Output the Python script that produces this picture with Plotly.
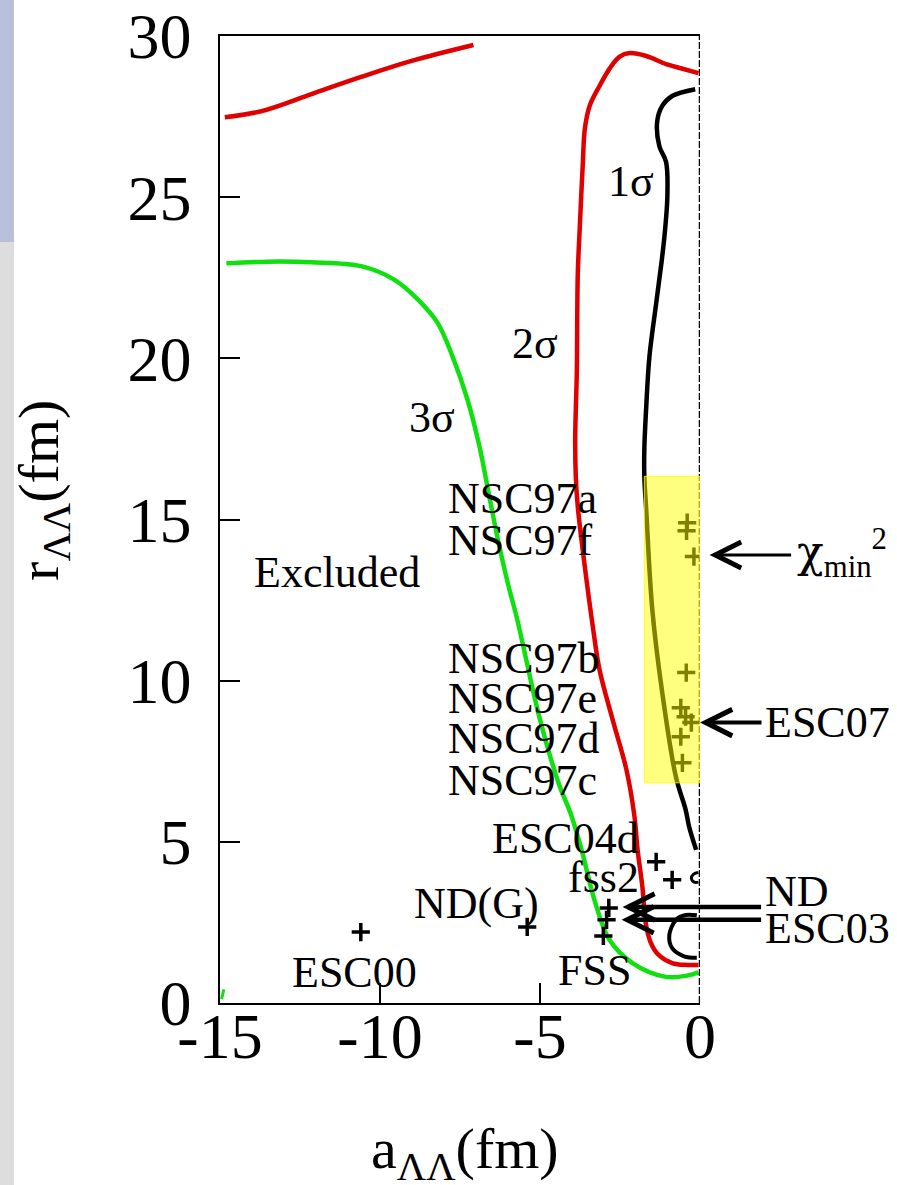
import plotly.graph_objects as go

# ---------------- data ----------------
# 2-sigma contour (red), main part
red_x = [-0.05, -0.6, -1.06, -1.68, -2.2, -2.52, -2.83, -3.14, -3.45, -3.6, -3.66, -3.76, -3.82,
         -3.85, -3.9, -3.88, -3.82, -3.6, -3.35, -3.14, -2.73, -2.3, -2.05, -1.95, -1.8, -1.7,
         -1.55, -1.3, -0.87, -0.4, -0.05]
red_y = [28.85, 29.0, 29.13, 29.38, 29.47, 29.35, 28.98, 28.45, 27.83, 27.11, 26.09, 24.0, 22.6,
         19.57, 17.5, 16.3, 15.4, 13.54, 11.68, 10.34, 8.79, 7.24, 5.8, 4.75, 3.6, 2.5,
         1.9, 1.5, 1.24, 1.18, 1.18]
# 2-sigma contour, upper-left piece
red2_x = [-14.85, -13.7, -12.14, -10.59, -9.04, -7.08]
red2_y = [27.48, 27.67, 28.2, 28.73, 29.22, 29.72]

# 3-sigma contour (green)
green_x = [-14.8, -13.5, -12.14, -10.59, -9.57, -8.82, -8.2, -7.75, -7.27, -6.9, -6.6, -6.3,
           -6.0, -5.71, -5.0, -4.38, -4.05, -3.7, -3.3, -2.83, -2.11, -1.06, -0.4, -0.05]
green_y = [22.95, 23.0, 22.98, 22.86, 22.45, 21.83, 21.1, 20.1, 18.73, 17.3, 15.8, 14.3,
           13.0, 11.89, 8.79, 6.71, 5.9, 4.75, 3.2, 1.96, 1.24, 0.81, 0.85, 0.95]
green2_x = [-14.95, -14.88]
green2_y = [0.12, 0.42]

# 1-sigma contour (black)
black_x = [-0.15, -0.87, -1.18, -1.34, -1.27, -1.06, -1.02, -1.1, -1.2, -1.37, -1.58, -1.68,
           -1.74, -1.74, -1.68, -1.49, -1.18, -0.75, -0.45, -0.34, -0.12]
black_y = [28.35, 28.14, 27.83, 27.33, 26.58, 26.09, 25.03, 23.9, 23.0, 21.7, 20.06, 18.5,
           17.17, 16.34, 15.3, 12.2, 9.63, 7.0, 6.0, 5.47, 4.75]
black2_x = [-0.1, -0.45, -0.75, -0.96, -0.87, -0.5, -0.1]
black2_y = [2.72, 2.73, 2.58, 2.1, 1.7, 1.45, 1.4]
black3_x = [-0.05, -0.2, -0.27, -0.18, -0.05]
black3_y = [4.05, 4.0, 3.87, 3.75, 3.75]

# model points (+)
model_x = [-10.6, -5.4, -2.85, -2.92, -3.02, -1.37, -0.87]
model_y = [2.2, 2.36, 2.95, 2.58, 2.08, 4.38, 3.82]
# points inside the highlighted band
band_x = [-0.4, -0.42, -0.19, -0.43, -0.6, -0.45, -0.27, -0.6, -0.55]
band_y = [14.9, 14.65, 13.85, 10.25, 9.16, 8.88, 8.7, 8.26, 7.45]

# highlighted band
band_x0, band_x1, band_y0, band_y1 = -1.74, 0.0, 6.83, 16.34

# text labels inside plot: (text, x, y, anchor)
labels = [
    ("1σ", -2.95, 25.5, "left"),
    ("2σ", -5.95, 20.45, "left"),
    ("3σ", -9.15, 18.15, "left"),
    ("NSC97a", -7.95, 15.65, "left"),
    ("NSC97f", -7.95, 14.35, "left"),
    ("Excluded", -14.0, 13.35, "left"),
    ("NSC97b", -7.95, 10.7, "left"),
    ("NSC97e", -7.95, 9.45, "left"),
    ("NSC97d", -7.95, 8.2, "left"),
    ("NSC97c", -7.95, 6.9, "left"),
    ("ESC04d", -6.55, 5.1, "left"),
    ("fss2", -4.2, 3.9, "left"),
    ("ND(G)", -9.0, 3.1, "left"),
    ("ESC00", -12.8, 0.95, "left"),
    ("FSS", -4.5, 1.0, "left"),
]
# arrows: label, tip x (ref), tip y, x reference, tail offset px, label paper x, label y, width, size
arrows = [
    ('<span style="font-family:DejaVu Serif">χ</span><sub>min</sub><sup>2</sup>',
     1.02, 13.9, "paper", 83, 1.198, 13.95, 3, 1.7),
    ("ESC07", 1.0, 8.7, "paper", 63, 1.132, 8.7, 4, 1.3),
    ("ND", -2.42, 2.98, "x", 140, 1.132, 3.45, 4.5, 1.15),
    ("ESC03", -2.45, 2.58, "x", 141, 1.132, 2.3, 4.5, 1.15),
]

x_ticks = [-15, -10, -5, 0]
y_ticks = [0, 5, 10, 15, 20, 25, 30]

SERIF = "Liberation Serif, Times New Roman, serif"
RED = "#e00000"
GREEN = "#10e010"

fig = go.Figure()

def line(x, y, color, w=4.5):
    fig.add_trace(go.Scatter(x=x, y=y, mode="lines", line=dict(color=color, width=w, shape="spline", smoothing=1.0),
                             hoverinfo="skip", showlegend=False, cliponaxis=True))

line(red_x, red_y, RED)
line(red2_x, red2_y, RED)
line(green_x, green_y, GREEN)
line(green2_x, green2_y, GREEN, 3)
line(black_x, black_y, "black")
line(black2_x, black2_y, "black", 4)
line(black3_x, black3_y, "black", 3)

fig.add_trace(go.Scatter(x=model_x, y=model_y, mode="markers",
                         marker=dict(symbol="cross-thin", size=13, line=dict(color="black", width=3.5)),
                         hoverinfo="skip", showlegend=False))
fig.add_trace(go.Scatter(x=band_x, y=band_y, mode="markers",
                         marker=dict(symbol="cross-thin", size=13, line=dict(color="black", width=3.5)),
                         hoverinfo="skip", showlegend=False))

# right border (dashed) and highlighted band
fig.add_shape(type="line", xref="x", yref="y", x0=0, x1=0, y0=0, y1=30,
              line=dict(color="black", width=2.5, dash="7px,2px"), layer="above")
fig.add_shape(type="rect", xref="x", yref="y", x0=band_x0, x1=band_x1, y0=band_y0, y1=band_y1,
              fillcolor="rgba(255,255,0,0.5)", line=dict(color="rgba(255,255,0,0.8)", width=1), layer="above")

# left strip of the page
fig.add_shape(type="rect", xref="paper", yref="paper", x0=-0.4583, x1=-0.4292, y0=0.787, y1=1.04,
              fillcolor="#b9bfd9", line=dict(width=0), layer="below")
fig.add_shape(type="rect", xref="paper", yref="paper", x0=-0.4583, x1=-0.4292, y0=-0.19, y1=0.787,
              fillcolor="#dddddd", line=dict(width=0), layer="below")

ann = []
for t, x, y, anc in labels:
    ann.append(dict(text=t, x=x, y=y, xref="x", yref="y", xanchor=anc, yanchor="middle",
                    showarrow=False, font=dict(family=SERIF, size=44, color="black")))
for t, tx, ty, xr, axo, lx, ly, w, s in arrows:
    ann.append(dict(text="", x=tx, y=ty, xref=xr, yref="y", ax=axo, ay=0, axref="pixel", ayref="pixel",
                    showarrow=True, arrowhead=5, arrowwidth=w, arrowsize=s, arrowcolor="black",
                    standoff=0))
    ann.append(dict(text=t, x=lx, y=ly, xref="paper", yref="y", xanchor="left", yanchor="middle",
                    showarrow=False, font=dict(family=SERIF, size=44, color="black")))

# axis titles
ann.append(dict(text="a<sub>ΛΛ</sub>(fm)", x=0.51, y=-0.115, xref="paper", yref="paper",
                xanchor="center", yanchor="top", showarrow=False,
                font=dict(family=SERIF, size=58, color="black")))
ann.append(dict(text="r<sub>ΛΛ</sub>(fm)", x=-0.37, y=0.53, xref="paper", yref="paper",
                xanchor="center", yanchor="middle", textangle=-90, showarrow=False,
                font=dict(family=SERIF, size=58, color="black")))

fig.update_layout(
    width=897, height=1185,
    margin=dict(l=220, r=197, t=36, b=182, autoexpand=False),
    paper_bgcolor="white", plot_bgcolor="white",
    showlegend=False,
    annotations=ann,
    xaxis=dict(range=[-15, 0], tickvals=x_ticks, ticktext=[str(v) for v in x_ticks],
               ticks="inside", ticklen=20, tickwidth=1.5, tickcolor="black",
               showline=True, linecolor="black", linewidth=1.5, mirror=True,
               showgrid=False, zeroline=False, automargin=False,
               tickfont=dict(family=SERIF, size=64, color="black"), ticklabelstandoff=-24),
    yaxis=dict(range=[0, 30], tickvals=y_ticks, ticktext=[str(v) for v in y_ticks],
               ticks="inside", ticklen=20, tickwidth=1.5, tickcolor="black",
               showline=True, linecolor="black", linewidth=1.5, mirror=False,
               showgrid=False, zeroline=False, automargin=False,
               tickfont=dict(family=SERIF, size=64, color="black"), ticklabelstandoff=14),
)

fig.write_html("out.html")
